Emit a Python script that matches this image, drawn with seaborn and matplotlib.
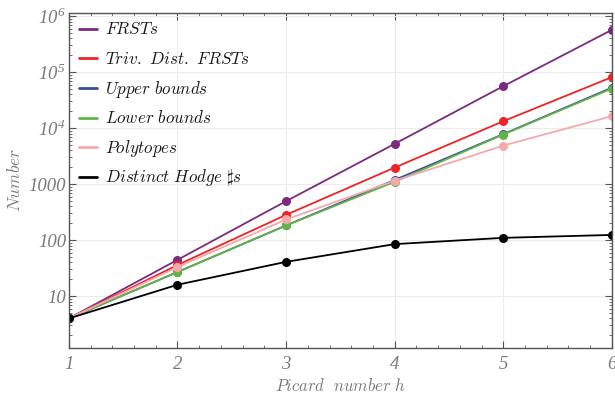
import pandas as pd
import matplotlib
matplotlib.use("Agg")
import matplotlib.pyplot as plt
import matplotlib.ticker as mticker
import seaborn as sns

h = [1, 2, 3, 4, 5, 6]
frsts = [4, 44.5, 497, 5250, 56200, 569000]
triv_dist = [4, 36, 283, 1980, 13300, 81500]
upper = [4, 27, 183, 1190, 7820, 53000]
lower = [4, 27, 183, 1100, 7700, 51000]
polytopes = [4, 33, 234, 1150, 4880, 16400]
hodge = [4, 16, 41, 85, 110, 124]

names = [r"$FRSTs$", r"$Triv.\ Dist.\ FRSTs$", r"$Upper\ bounds$",
         r"$Lower\ bounds$", r"$Polytopes$", r"$Distinct\ Hodge\ \sharp s$"]
series = [frsts, triv_dist, upper, lower, polytopes, hodge]
colors = ["#7b2a80", "#ee2227", "#3a4ea0", "#62b446", "#f5a9ab", "#000000"]

xtick_labels = ["1", "2", "3", "4", "5", "6"]
ytick_vals = [10, 100, 1000, 1e4, 1e5, 1e6]
ytick_labels = ["10", "100", "1000",
                r"$\mathregular{10}^{\mathregular{4}}$",
                r"$\mathregular{10}^{\mathregular{5}}$",
                r"$\mathregular{10}^{\mathregular{6}}$"]

rows = []
for name, vals in zip(names, series):
    for x, v in zip(h, vals):
        rows.append({"h": x, "value": v, "series": name})
df = pd.DataFrame(rows)

sns.set_style("ticks")
plt.rcParams["mathtext.fontset"] = "cm"
plt.rcParams["font.family"] = ["Liberation Serif", "DejaVu Serif"]

gray = "#7a7a7a"
fig = plt.figure(figsize=(6.15, 3.99), dpi=100)
ax = fig.add_axes([0.112, 0.129, 0.883, 0.838])

sns.lineplot(data=df, x="h", y="value", hue="series", hue_order=names,
             palette=dict(zip(names, colors)), marker="o", markersize=6.5,
             markeredgewidth=0, linewidth=1.3, legend=False, ax=ax)

ax.set_yscale("log")
ax.set_xlim(1, 6)
ax.set_ylim(1.21, 1.13e6)

ax.xaxis.set_major_locator(mticker.FixedLocator(h))
ax.xaxis.set_minor_locator(mticker.MultipleLocator(0.2))
ax.set_xticklabels(xtick_labels, fontstyle="italic", fontsize=13.5)

ax.yaxis.set_major_locator(mticker.FixedLocator(ytick_vals))
ax.set_yticklabels(ytick_labels, fontstyle="italic", fontsize=13.5)
ax.yaxis.set_minor_locator(mticker.LogLocator(base=10, subs=range(2, 10), numticks=20))
ax.yaxis.set_minor_formatter(mticker.NullFormatter())

ax.grid(True, which="major", color="#ececec", linewidth=0.8)
ax.set_axisbelow(True)
for s in ax.spines.values():
    s.set_color("#555555")
    s.set_linewidth(1.0)
    s.set_visible(True)
ax.tick_params(which="both", direction="in", top=True, right=True,
               colors="#555555", labelcolor=gray)
ax.tick_params(axis="x", pad=6)
ax.tick_params(axis="y", pad=2)
ax.tick_params(which="major", length=5)
ax.tick_params(which="minor", length=2.5)

ax.set_xlabel(r"$Picard\ \ number\ h$", color=gray, fontsize=12, labelpad=4)
ax.set_ylabel(r"$Number$", color=gray, fontsize=12.5, labelpad=3)

# legend drawn by hand so that rows are evenly spaced
row_step = 0.0885
for i, (name, color) in enumerate(zip(names, colors)):
    yy = 0.953 - i * row_step
    ax.plot([0.0184, 0.0516], [yy, yy], color=color, linewidth=2,
            transform=ax.transAxes, clip_on=False)
    ax.text(0.0663, yy - 0.0165, name, fontsize=12.3, color="#1a1a1a",
            va="baseline", ha="left", transform=ax.transAxes)

fig.savefig("out.png", dpi=100)
